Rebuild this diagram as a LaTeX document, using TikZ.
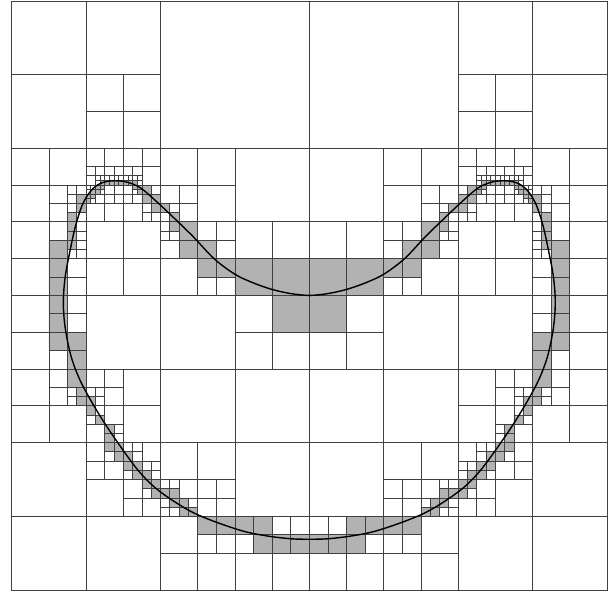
\documentclass[tikz,border=0pt]{standalone}
\usepackage{tikz}
\tikzset{
 qc/.style={draw=black!75,line width=0.55pt},
 qs/.style={qc,fill=black!30},
 crv/.style={line width=1.2pt,line join=round}}
% one half of the subdivision, the other half is its mirror image
\newcommand{\halfcells}{%
 \draw[qc] (0,0) rectangle +(16,16) (16,0) rectangle +(16,16) (0,16) rectangle +(16,16)
  (16,16) rectangle +(8,8) (24,16) rectangle +(8,8) (16,24) rectangle +(8,8) (24,24) rectangle +(8,8)
  (32,0) rectangle +(32,32);
 \draw[qc] (0,32) rectangle +(8,8) (0,40) rectangle +(8,8) (0,48) rectangle +(8,8) (0,56) rectangle +(8,8)
  (0,64) rectangle +(8,8) (0,72) rectangle +(8,8) (0,80) rectangle +(8,8) (0,88) rectangle +(8,8)
  (0,96) rectangle +(16,16) (0,112) rectangle +(16,16);
 \draw[qc] (8,32) rectangle +(8,8) (8,40) rectangle +(4,4) (12,40) rectangle +(2,2) (14,40) rectangle +(2,2)
  (12,42) rectangle +(2,2) (8,44) rectangle +(4,4) (12,44) rectangle +(2,2) (14,46) rectangle +(2,2)
  (8,48) rectangle +(4,4) (14,48) rectangle +(2,2) (14,50) rectangle +(2,2) (14,52) rectangle +(2,2)
  (12,54) rectangle +(2,2) (14,54) rectangle +(2,2) (12,56) rectangle +(4,4) (12,60) rectangle +(4,4)
  (12,64) rectangle +(4,4) (12,68) rectangle +(4,4) (8,76) rectangle +(4,4) (8,80) rectangle +(4,4)
  (8,84) rectangle +(4,4) (12,84) rectangle +(2,2) (12,86) rectangle +(2,2) (8,88) rectangle +(8,8);
 \draw[qc] (16,32) rectangle +(4,4) (20,32) rectangle +(4,4) (24,32) rectangle +(4,4) (28,32) rectangle +(4,4)
  (16,36) rectangle +(2,2) (18,36) rectangle +(2,2) (16,38) rectangle +(2,2) (18,38) rectangle +(1,1)
  (19,38) rectangle +(1,1) (18,39) rectangle +(1,1) (20,36) rectangle +(2,2) (22,36) rectangle +(2,2)
  (20,38) rectangle +(1,1) (21,38) rectangle +(1,1) (22,38) rectangle +(1,1) (23,38) rectangle +(1,1)
  (24,36) rectangle +(2,2) (26,36) rectangle +(2,2) (24,38) rectangle +(1,1) (25,38) rectangle +(1,1)
  (26,38) rectangle +(1,1) (27,38) rectangle +(1,1) (27,39) rectangle +(1,1) (28,36) rectangle +(4,4);
 \draw[qc] (16,40) rectangle +(1,1) (17,40) rectangle +(1,1) (16,41) rectangle +(1,1) (19,41) rectangle +(1,1)
  (17,43) rectangle +(1,1) (18,42) rectangle +(2,2) (20,40) rectangle +(2,2) (22,40) rectangle +(2,2)
  (20,42) rectangle +(2,2) (22,42) rectangle +(2,2) (24,40) rectangle +(2,2) (26,41) rectangle +(1,1)
  (24,42) rectangle +(2,2) (26,42) rectangle +(2,2) (30,40) rectangle +(2,2)
  (16,44) rectangle +(4,4) (20,44) rectangle +(4,4) (24,44) rectangle +(4,4) (28,44) rectangle +(2,2)
  (28,46) rectangle +(2,2) (30,46) rectangle +(2,2)
  (16,48) rectangle +(8,8) (24,48) rectangle +(8,8) (16,56) rectangle +(8,8) (24,56) rectangle +(8,8);
 \draw[qc] (16,64) rectangle +(16,16) (16,80) rectangle +(4,4) (20,80) rectangle +(4,4) (16,84) rectangle +(2,2)
  (18,84) rectangle +(2,2) (18,86) rectangle +(2,2) (20,84) rectangle +(4,4) (24,80) rectangle +(8,8)
  (18,88) rectangle +(2,2) (16,90) rectangle +(2,2) (20,88) rectangle +(4,4) (16,92) rectangle +(4,4)
  (22,92) rectangle +(2,2) (22,94) rectangle +(2,2) (24,88) rectangle +(8,8)
  (16,96) rectangle +(4,4) (20,98) rectangle +(2,2) (16,100) rectangle +(4,4) (20,100) rectangle +(4,4)
  (24,96) rectangle +(2,2) (26,96) rectangle +(2,2) (26,98) rectangle +(2,2) (28,96) rectangle +(4,4)
  (24,102) rectangle +(2,2) (28,100) rectangle +(2,2) (30,100) rectangle +(2,2) (30,102) rectangle +(2,2)
  (16,104) rectangle +(8,8) (24,104) rectangle +(4,4) (28,106) rectangle +(2,2) (24,108) rectangle +(4,4)
  (28,108) rectangle +(4,4) (16,112) rectangle +(16,16);
 \draw[qc] (32,32) rectangle +(8,8) (40,32) rectangle +(8,8) (48,32) rectangle +(16,16)
  (32,40) rectangle +(4,4) (36,40) rectangle +(4,4) (34,44) rectangle +(2,2) (32,46) rectangle +(2,2)
  (36,44) rectangle +(4,4) (40,40) rectangle +(8,8)
  (32,48) rectangle +(2,2) (32,50) rectangle +(2,2) (34,50) rectangle +(2,2) (32,52) rectangle +(4,4)
  (40,48) rectangle +(4,4) (44,48) rectangle +(4,4) (44,52) rectangle +(4,4) (48,48) rectangle +(8,8)
  (56,48) rectangle +(8,8) (32,56) rectangle +(8,8) (40,60) rectangle +(4,4) (44,60) rectangle +(4,4);
 \draw[qc] (32,64) rectangle +(16,16) (48,64) rectangle +(8,8) (48,72) rectangle +(8,8) (56,72) rectangle +(8,8)
  (32,80) rectangle +(16,16) (48,80) rectangle +(16,16) (32,96) rectangle +(8,8) (40,96) rectangle +(8,8)
  (48,96) rectangle +(16,16)
  (32,104) rectangle +(2,2) (34,104) rectangle +(2,2) (32,108) rectangle +(2,2) (32,110) rectangle +(2,2)
  (34,110) rectangle +(2,2) (36,104) rectangle +(4,4) (38,108) rectangle +(2,2) (40,104) rectangle +(4,4)
  (44,104) rectangle +(4,4) (40,108) rectangle +(4,4) (44,108) rectangle +(4,4)
  (32,112) rectangle +(8,8) (40,116) rectangle +(4,4) (44,116) rectangle +(4,4) (48,116) rectangle +(4,4)
  (56,112) rectangle +(4,4) (60,112) rectangle +(4,4)
  (32,120) rectangle +(8,8) (40,120) rectangle +(8,8) (48,120) rectangle +(8,8) (56,120) rectangle +(8,8);
 % cells met by the curve
 \filldraw[qs] (14,42) rectangle +(2,2) (14,44) rectangle +(2,2) (12,46) rectangle +(2,2) (12,48) rectangle +(2,2)
  (12,50) rectangle +(2,2) (8,52) rectangle +(4,4) (12,52) rectangle +(2,2) (8,56) rectangle +(4,4)
  (8,60) rectangle +(4,4) (8,64) rectangle +(4,4) (8,68) rectangle +(4,4) (8,72) rectangle +(4,4)
  (12,72) rectangle +(4,4) (12,76) rectangle +(4,4) (12,80) rectangle +(4,4) (14,84) rectangle +(2,2)
  (14,86) rectangle +(2,2);
 \filldraw[qs] (19,39) rectangle +(1,1) (20,39) rectangle +(1,1) (21,39) rectangle +(1,1) (22,39) rectangle +(1,1)
  (23,39) rectangle +(1,1) (24,39) rectangle +(1,1) (25,39) rectangle +(1,1) (26,39) rectangle +(1,1)
  (17,41) rectangle +(1,1) (18,40) rectangle +(1,1) (19,40) rectangle +(1,1) (18,41) rectangle +(1,1)
  (16,42) rectangle +(1,1) (17,42) rectangle +(1,1) (16,43) rectangle +(1,1)
  (26,40) rectangle +(1,1) (27,40) rectangle +(1,1) (27,41) rectangle +(1,1)
  (28,40) rectangle +(2,2) (28,42) rectangle +(2,2) (30,42) rectangle +(2,2) (30,44) rectangle +(2,2);
 \filldraw[qs] (16,86) rectangle +(2,2) (16,88) rectangle +(2,2) (18,90) rectangle +(2,2) (20,92) rectangle +(2,2)
  (20,94) rectangle +(2,2) (20,96) rectangle +(2,2) (22,96) rectangle +(2,2) (22,98) rectangle +(2,2)
  (24,98) rectangle +(2,2) (24,100) rectangle +(2,2) (26,100) rectangle +(2,2) (26,102) rectangle +(2,2)
  (28,102) rectangle +(2,2) (28,104) rectangle +(2,2) (30,104) rectangle +(2,2) (30,106) rectangle +(2,2);
 \filldraw[qs] (32,44) rectangle +(2,2) (34,46) rectangle +(2,2) (34,48) rectangle +(2,2) (36,48) rectangle +(4,4)
  (36,52) rectangle +(4,4) (40,52) rectangle +(4,4) (40,56) rectangle +(4,4) (44,56) rectangle +(4,4)
  (48,56) rectangle +(8,8) (56,56) rectangle +(8,8) (56,64) rectangle +(8,8)
  (32,106) rectangle +(2,2) (34,106) rectangle +(2,2) (34,108) rectangle +(2,2) (36,108) rectangle +(2,2)
  (36,110) rectangle +(2,2) (38,110) rectangle +(2,2)
  (40,112) rectangle +(4,4) (44,112) rectangle +(4,4) (48,112) rectangle +(4,4) (52,112) rectangle +(4,4)
  (52,116) rectangle +(4,4) (56,116) rectangle +(4,4) (60,116) rectangle +(4,4);}

\begin{document}
\begin{tikzpicture}[x=0.03cm,y=-0.03cm]
 \useasboundingbox (0,0) rectangle (609,593);
 \begin{scope}[shift={(11.7,1)},x=0.1395cm,y=-0.138cm]
  \halfcells
  \begin{scope}[shift={(128,0)},xscale=-1]
   \halfcells
  \end{scope}
  % the curve
  \draw[crv] plot[smooth cycle,tension=0.55] coordinates {(64,64) (60,63.6) (56,62.7) (52,61.3)
   (48,59.4) (43.5,56) (39,51.2) (34,46.3) (30.5,43) (27.5,40.5) (24.5,39.3) (21.5,39.1) (19,39.7)
   (17,41.3) (15.2,44.3) (13.7,49) (12.5,54.5) (11.5,60) (11.1,65.5) (11.5,71) (12.7,77) (14.5,82)
   (17,86.8) (20,91.8) (23.5,97) (27,101.8) (30.5,105.5) (34.5,108.5) (39,111.2) (44,113.3)
   (50,115.3) (55,116.3) (60,116.9) (64,117) (68,116.9) (73,116.3) (78,115.3) (84,113.3) (89,111.2)
   (93.5,108.5) (97.5,105.5) (101,101.8) (104.5,97) (108,91.8) (111,86.8) (113.5,82) (115.3,77)
   (116.5,71) (116.9,65.5) (116.5,60) (115.5,54.5) (114.3,49) (112.8,44.3) (111,41.3) (109,39.7)
   (106.5,39.1) (103.5,39.3) (100.5,40.5) (97.5,43) (94,46.3) (89,51.2) (84.5,56) (80,59.4)
   (76,61.3) (72,62.7) (68,63.6)};
 \end{scope}
\end{tikzpicture}
\end{document}
